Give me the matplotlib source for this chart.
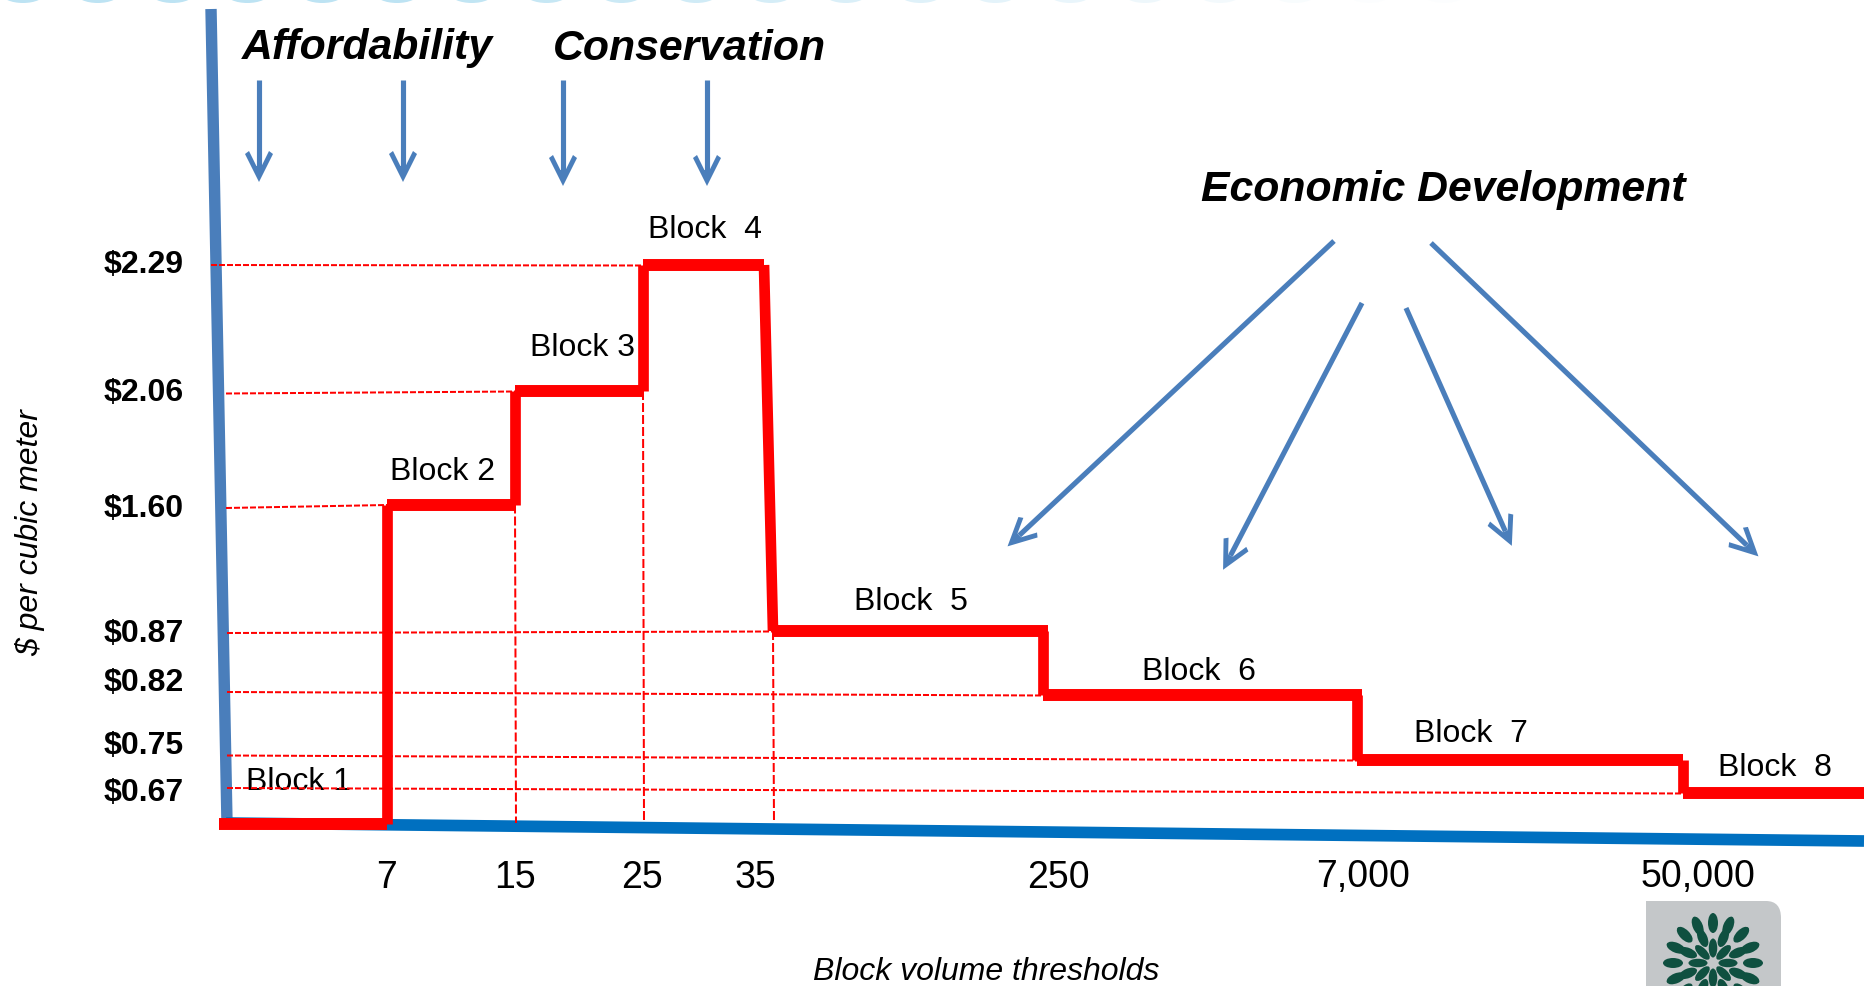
import numpy as np
import matplotlib
matplotlib.use("Agg")
import matplotlib.pyplot as plt
from matplotlib.patches import Ellipse, PathPatch
from matplotlib.path import Path
from matplotlib.transforms import Affine2D

W, H = 1870, 986

# =============================
# DATA
# =============================
block_names = ["Block 1", "Block 2", "Block 3", "Block  4",
               "Block  5", "Block  6", "Block  7", "Block  8"]
block_start = [0, 7, 15, 25, 35, 250, 7000, 50000]
block_end = [7, 15, 25, 35, 250, 7000, 50000, 100000]
block_rate = [0.0, 1.60, 2.06, 2.29, 0.87, 0.82, 0.75, 0.67]

price_ticks = [2.29, 2.06, 1.60, 0.87, 0.82, 0.75, 0.67]
volume_ticks = [7, 15, 25, 35, 250, 7000, 50000]

# where each dashed level runs out to on the volume axis
level_reach = [25, 15, 7, 35, 250, 7000, 50000]
# dashed drops from a level down to the volume axis
drop_volume = [15, 25, 35]
drop_rate = [1.60, 2.06, 0.87]

# =============================
# LAYOUT (pixels, y measured from the top)
# =============================
x_scale_vol = [-10, 0, 7, 15, 25, 35, 250, 7000, 50000, 100000, 200000]
x_scale_px = [0, 219, 387, 515, 643, 773, 1043, 1357, 1683, 1864, 1870]
y_scale_rate = [-1, 0, 0.67, 0.75, 0.82, 0.87, 1.60, 2.06, 2.29, 4]
y_scale_px = [986, 824, 793, 760, 695, 631, 504.5, 391, 265, 0]

level_start_px = [211, 226, 226, 227, 227, 227, 227]
level_left_nudge = [0, -2.5, -3.5, -2, 3, 4.5, 5]

block_label_xy = [(298, 782.5), (442.5, 472.5), (583, 347.5), (705, 230.5),
                  (911, 601.5), (1199, 671.5), (1471, 734.5), (1775, 767.5)]
price_label_nudge = [0, 2, 4.5, 3, -12, -14, -0.5]
volume_label_nudge = [-1, 0, -1, -18, 15, 6, 15]
tread_end_nudge = [0, 0, 0, 0, 5, 5, 0, 0]

AXIS_BLUE = "#4A7EBB"
BASE_BLUE = "#0070C0"
RED = "#FF0000"
GREEN = "#0F5040"
FONT = "Liberation Sans"

plt.rcParams["font.family"] = FONT


def x_forward(v):
    return np.interp(v, x_scale_vol, x_scale_px)


def x_inverse(p):
    return np.interp(p, x_scale_px, x_scale_vol)


def y_forward(r):
    return H - np.interp(r, y_scale_rate, y_scale_px)


def y_inverse(p):
    return np.interp(H - np.asarray(p), y_scale_px[::-1], y_scale_rate[::-1])


fig = plt.figure(figsize=(W / 100, H / 100), dpi=100)
ax = fig.add_axes([0, 0, 1, 1])
ax.set_xscale("function", functions=(x_forward, x_inverse))
ax.set_yscale("function", functions=(y_forward, y_inverse))
ax.set_xlim(-10, 200000)
ax.set_ylim(-1, 4)
ax.set_autoscale_on(False)
ax.axis("off")

# pixel space for the decoration around the chart
pix = Affine2D().scale(1, -1).translate(0, H)


def to_pix(vol, rate):
    x, y = ax.transData.transform((vol, rate))
    return x, H - y


# =============================
# SCALLOPED HEADER EDGE
# =============================
for cx in np.arange(23, 1460, 74.8):
    fade = min(1.0, max(0.04, (1400 - cx) / 1000))
    ax.add_patch(Ellipse((cx, -7), 44, 20, transform=pix, color="#BDE3F3",
                         alpha=fade, lw=0, zorder=1))

# =============================
# AXES LINES
# =============================
ax.plot([211, 227], [9, 823], transform=pix, color=AXIS_BLUE, lw=8.2,
        solid_capstyle="butt", zorder=2)
ax.plot([226, 1864], [823, 841], transform=pix, color=BASE_BLUE, lw=8.4,
        solid_capstyle="butt", zorder=2)

# =============================
# DASHED GUIDES
# =============================
for rate, reach, start, nudge in zip(price_ticks, level_reach, level_start_px, level_left_nudge):
    x1, y1 = to_pix(reach, rate)
    ax.plot([start, x1], [y1 - nudge, y1 + 0.5], transform=pix, color=RED,
            lw=1.44, ls=(0, (3, 1)), zorder=3)

for vol, rate in zip(drop_volume, drop_rate):
    x0, y0 = to_pix(vol, rate)
    ax.plot([x0, x0 + 1], [y0, 823], transform=pix, color=RED,
            lw=1.44, ls=(0, (4.5, 1.5)), zorder=3)

# =============================
# RATE STEPS
# =============================
step_pts = []
for start, end, rate in zip(block_start, block_end, block_rate):
    step_pts.append(to_pix(start, rate))
    step_pts.append(to_pix(end, rate))
step_pts = np.array(step_pts)
# the drop after block 4 leans slightly to the right
step_pts[7, 0] -= 9

# treads are a little heavier than the risers, corners stay notched
for i in range(len(step_pts) - 1):
    seg = step_pts[i:i + 2].copy()
    if i % 2 == 0:
        seg[1, 0] += tread_end_nudge[i // 2]
    ax.plot(seg[:, 0], seg[:, 1], transform=pix, color=RED,
            lw=8.6 if i % 2 == 0 else 7.7, solid_capstyle="butt", zorder=4)

for name, (lx, ly) in zip(block_names, block_label_xy):
    ax.text(lx, ly, name, transform=pix, ha="center", va="center",
            fontsize=23, color="black", zorder=2.5)

# =============================
# TICK LABELS AND TITLES
# =============================
for rate, nudge in zip(price_ticks, price_label_nudge):
    _, y = to_pix(0, rate)
    ax.text(184, y + nudge, f"${rate:.2f}", transform=pix, ha="right", va="center",
            fontsize=23, fontweight="bold", color="black")

for vol, nudge in zip(volume_ticks, volume_label_nudge):
    x, _ = to_pix(vol, 0)
    ax.text(x + nudge, 877.5, f"{vol:,}", transform=pix, ha="center", va="center",
            fontsize=27, color="black")

ax.text(986, 971.5, "Block volume thresholds", transform=pix, ha="center", va="center",
        fontsize=23, style="italic", color="black")
ax.text(30, 533, "$ per cubic meter", transform=pix, ha="center", va="center",
        rotation=90, fontsize=23, style="italic", color="black")

for label, lx, ly in [("Affordability", 242, 48.5), ("Conservation", 553, 48.5),
                      ("Economic Development", 1201, 190.5)]:
    ax.text(lx, ly, label, transform=pix, ha="left", va="center", fontsize=30.8,
            fontweight="bold", style="italic", color="black")

# =============================
# ARROWS
# =============================
arrows = [((259, 80), (259, 180)), ((403, 80), (403, 180)),
          ((563, 80), (563, 184)), ((707, 80), (707, 184)),
          ((1334, 241), (1009, 545)), ((1362, 303), (1224, 568)),
          ((1406, 308), (1511, 544)), ((1431, 243), (1757, 555))]
head_along = np.array([2, -26, -29, -14, -14, -29, -26])
head_across = np.array([0, 14, 10, 2.6, -2.6, -10, -14])
for tail, tip in arrows:
    tail, tip = np.array(tail, float), np.array(tip, float)
    d = (tip - tail) / np.hypot(*(tip - tail))
    n = np.array([-d[1], d[0]])
    neck = tip + d * head_along[3]
    ax.plot([tail[0], neck[0]], [tail[1], neck[1]], transform=pix, color=AXIS_BLUE,
            lw=3.7, solid_capstyle="butt", zorder=3)
    hx = tip[0] + d[0] * head_along + n[0] * head_across
    hy = tip[1] + d[1] * head_along + n[1] * head_across
    ax.fill(hx, hy, transform=pix, color=AXIS_BLUE, lw=0, zorder=3)

# =============================
# LOGO TILE
# =============================
tile = Path([(1646, 990), (1646, 901), (1766, 901), (1781, 901), (1781, 918), (1781, 990), (1646, 990)],
            [Path.MOVETO, Path.LINETO, Path.LINETO, Path.CURVE3, Path.CURVE3, Path.LINETO, Path.CLOSEPOLY])
ax.add_patch(PathPatch(tile, transform=pix, facecolor="#C4C7C9", edgecolor="none", zorder=1))

cx, cy = 1713, 963
for radius, count, phase, length, width in [(15, 8, 90, 19, 8.5), (27, 8, 67.5, 19, 9.5), (40, 16, 90, 20, 10)]:
    for a in np.deg2rad(phase + np.arange(count) * 360 / count):
        ex = cx + radius * np.cos(a)
        ey = cy - radius * np.sin(a)
        ax.add_patch(Ellipse((ex, ey), length, width, angle=-np.rad2deg(a), transform=pix,
                             facecolor=GREEN, edgecolor="none", zorder=2))

fig.savefig("out.png", dpi=100, facecolor="white")
